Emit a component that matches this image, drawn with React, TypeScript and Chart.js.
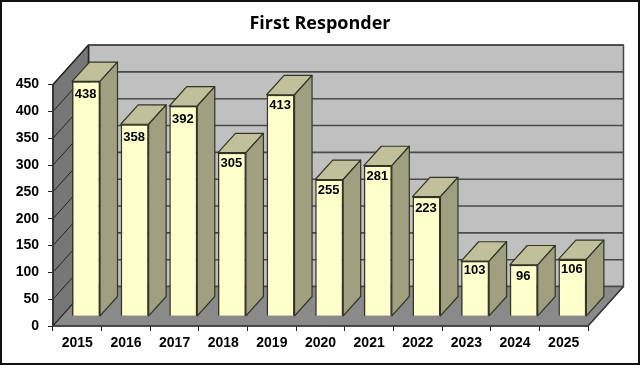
import React, { useEffect, useRef } from "react";
import { Chart, registerables } from "chart.js";

Chart.register(...registerables);

const years = ["2015", "2016", "2017", "2018", "2019", "2020", "2021", "2022", "2023", "2024", "2025"];
const responders = [438, 358, 392, 305, 413, 255, 281, 223, 103, 96, 106];
const yMax = 450;
const yStep = 50;

const WALL_DX = 35.5;
const WALL_DY = 39.5;
const BAR_SHIFT_X = 8.7;
const BAR_SHIFT_Y = 9.7;
const BAR_DX = 17.5;
const BAR_DY = 19.3;
const INK = "#333326";
// how far each value label sits below its bar's top edge
const labelDrop = [13.5, 13.5, 13, 11, 11, 10.5, 10.5, 11.5, 9.5, 12, 9.5];

const poly = (ctx: CanvasRenderingContext2D, pts: number[][], fill: string, stroke: string, lw: number) => {
  ctx.beginPath();
  pts.forEach((p, i) => (i ? ctx.lineTo(p[0], p[1]) : ctx.moveTo(p[0], p[1])));
  ctx.closePath();
  ctx.fillStyle = fill;
  ctx.fill();
  ctx.strokeStyle = stroke;
  ctx.lineWidth = lw;
  ctx.lineJoin = "round";
  ctx.stroke();
};

const walls = {
  id: "walls",
  beforeDatasetsDraw(chart: any) {
    const { ctx, chartArea: a, scales } = chart;
    const y = scales.y;
    const L = a.left, R = a.right, T = y.getPixelForValue(yMax), B = y.getPixelForValue(0);
    ctx.save();
    poly(ctx, [[L + WALL_DX, T - WALL_DY], [R + WALL_DX, T - WALL_DY], [R + WALL_DX, B - WALL_DY], [L + WALL_DX, B - WALL_DY]], "#C0C0C0", "#444", 1.5);
    poly(ctx, [[L, T], [L + WALL_DX, T - WALL_DY], [L + WALL_DX, B - WALL_DY], [L, B]], "#777777", "#222", 1.5);
    poly(ctx, [[L, B], [L + WALL_DX, B - WALL_DY], [R + WALL_DX, B - WALL_DY], [R, B]], "#8A8A8A", "#555", 1);
    for (const t of y.ticks) {
      const p = y.getPixelForValue(t.value);
      ctx.beginPath();
      ctx.moveTo(L, p);
      ctx.lineTo(L + WALL_DX, p - WALL_DY);
      ctx.strokeStyle = "#222";
      ctx.lineWidth = 1;
      ctx.stroke();
      ctx.beginPath();
      ctx.moveTo(L + WALL_DX, p - WALL_DY);
      ctx.lineTo(R + WALL_DX, p - WALL_DY);
      ctx.strokeStyle = "#4a4a4a";
      ctx.lineWidth = 1.6;
      ctx.stroke();
    }
    ctx.beginPath();
    ctx.moveTo(L, T);
    ctx.lineTo(L, B);
    ctx.lineTo(R, B);
    ctx.lineTo(R + WALL_DX, B - WALL_DY);
    ctx.strokeStyle = "#333";
    ctx.lineWidth = 1.6;
    ctx.stroke();
    ctx.restore();
  },
  beforeDatasetDraw(chart: any, args: any) {
    const { ctx } = chart;
    ctx.save();
    ctx.translate(BAR_SHIFT_X, -BAR_SHIFT_Y);
    for (const bar of args.meta.data) {
      const l = bar.x - bar.width / 2, r = bar.x + bar.width / 2, t = bar.y, b = bar.base;
      poly(ctx, [[l, t], [l + BAR_DX, t - BAR_DY], [r + BAR_DX, t - BAR_DY], [r, t]], "#C0C09A", INK, 1.2);
      poly(ctx, [[r, t], [r + BAR_DX, t - BAR_DY], [r + BAR_DX, b - BAR_DY], [r, b]], "#A0A080", INK, 1.2);
    }
  },
  afterDatasetDraw(chart: any, args: any) {
    const { ctx } = chart;
    ctx.font = "bold 13px 'Liberation Sans'";
    ctx.fillStyle = "#000";
    ctx.textAlign = "center";
    ctx.textBaseline = "middle";
    args.meta.data.forEach((bar: any, i: number) => {
      ctx.fillText(String(responders[i]), bar.x - 0.5, bar.y + labelDrop[i]);
    });
    ctx.restore();
  },
  afterDraw(chart: any) {
    const { ctx, width, height } = chart;
    ctx.save();
    ctx.strokeStyle = "#111";
    ctx.lineWidth = 2;
    ctx.strokeRect(1, 1, width - 2, height - 2);
    ctx.restore();
  },
};

export default function App() {
  const ref = useRef<HTMLCanvasElement>(null);
  useEffect(() => {
    document.body.style.margin = "0";
    const tickFont = { family: "'Liberation Sans'", size: 14, weight: "bold" as const };
    const chart = new Chart(ref.current!, {
      type: "bar",
      data: {
        labels: years,
        datasets: [
          {
            label: "First Responder",
            data: responders,
            backgroundColor: "#FFFFCC",
            borderColor: INK,
            borderWidth: 1.5,
            barPercentage: 0.575,
            categoryPercentage: 1,
          },
        ],
      },
      plugins: [walls],
      options: {
        responsive: false,
        animation: false,
        layout: { padding: { left: 0, right: 0, top: 13, bottom: 0 } },
        plugins: {
          legend: { display: false },
          tooltip: { enabled: false },
          title: {
            display: true,
            text: "First Responder",
            color: "#000",
            font: { family: "'Open Sans'", size: 18, weight: "bold" },
            padding: { top: 0, bottom: 50 },
          },
        },
        scales: {
          x: {
            afterFit: (s: any) => { s.height = 39; },
            grid: { display: true, drawOnChartArea: false, offset: true, color: "#222", tickLength: 5, lineWidth: 1 },
            border: { display: false },
            ticks: { color: "#000", font: tickFont, maxRotation: 0, padding: 4, autoSkip: false },
          },
          y: {
            min: 0,
            max: yMax,
            afterFit: (s: any) => { s.width = 53; },
            grid: { display: true, drawOnChartArea: false, color: "#222", tickLength: 5, lineWidth: 1 },
            border: { display: false },
            ticks: { color: "#000", font: tickFont, stepSize: yStep, padding: 9 },
          },
          spacer: {
            type: "linear",
            position: "right",
            display: true,
            afterFit: (s: any) => { s.width = 52; },
            grid: { display: false },
            border: { display: false },
            ticks: { display: false },
          },
        },
      },
    });
    return () => chart.destroy();
  }, []);
  return <canvas ref={ref} width={640} height={365} style={{ display: "block" }} />;
}
